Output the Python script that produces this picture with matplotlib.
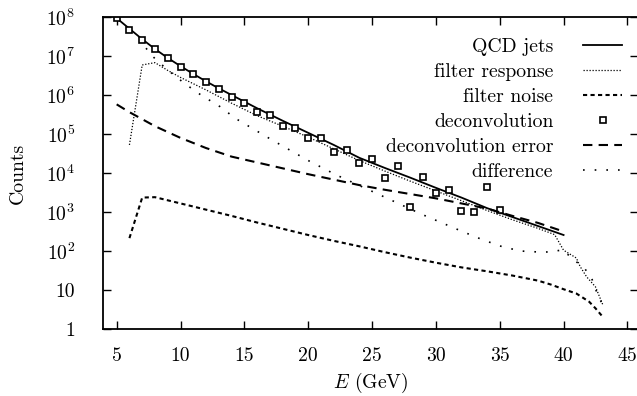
import numpy as np
import matplotlib
matplotlib.use("Agg")
import matplotlib.pyplot as plt

plt.rcParams["font.family"] = ["cmr10", "DejaVu Serif"]
plt.rcParams["mathtext.fontset"] = "cm"
plt.rcParams["axes.unicode_minus"] = False
plt.rcParams["axes.formatter.use_mathtext"] = True

# ------------------ spectra (log10 of counts) ------------------
qcd_e = [5, 6, 7, 8, 9, 10, 11, 12, 13, 14, 16, 18, 20, 22, 24, 26, 28, 30, 32, 34, 36, 38, 40]
qcd_log = [7.97, 7.70, 7.43, 7.18, 6.95, 6.74, 6.54, 6.35, 6.17, 6.00, 5.66, 5.34, 5.03,
           4.72, 4.39, 4.13, 3.88, 3.62, 3.37, 3.10, 2.87, 2.64, 2.41]

resp_e = [6, 7, 8, 9, 10, 11, 12, 13, 14, 16, 18, 20, 22, 24, 26, 28, 30, 32, 34, 36, 38,
          39.3, 40, 41, 41.3, 41.8, 42.5, 43.1]
resp_log = [4.72, 6.77, 6.83, 6.63, 6.45, 6.29, 6.13, 5.96, 5.79, 5.47, 5.20, 4.92, 4.62,
            4.32, 4.05, 3.79, 3.54, 3.29, 3.04, 2.80, 2.58, 2.42, 2.02, 1.82, 1.60, 1.34,
            1.08, 0.60]

noise_e = [6, 7, 8, 9, 10, 12, 14, 16, 18, 20, 22, 24, 26, 28, 30, 32, 34, 36, 38, 39, 40,
           41, 42, 42.5, 43.1]
noise_log = [2.33, 3.37, 3.38, 3.30, 3.22, 3.06, 2.90, 2.73, 2.57, 2.41, 2.26, 2.12, 1.97,
             1.83, 1.70, 1.58, 1.48, 1.37, 1.24, 1.14, 1.02, 0.91, 0.70, 0.53, 0.30]

deconv_e = list(range(5, 36))
deconv_log = [7.97, 7.67, 7.41, 7.17, 6.94, 6.73, 6.54, 6.34, 6.15, 5.96, 5.80, 5.56, 5.49,
              5.21, 5.16, 4.90, 4.89, 4.53, 4.59, 4.25, 4.36, 3.88, 4.18, 3.12, 3.91, 3.50,
              3.56, 3.03, 2.99, 3.65, 3.05]

err_e = [5, 6, 7, 8, 9, 10, 11, 12, 14, 16, 18, 20, 22, 24, 26, 28, 30, 32, 34, 36, 38, 40]
err_log = [5.76, 5.56, 5.38, 5.20, 5.05, 4.90, 4.77, 4.64, 4.42, 4.27, 4.12, 3.97, 3.83,
           3.69, 3.57, 3.46, 3.35, 3.22, 3.09, 2.90, 2.72, 2.50]

diff_e = [7.3, 7.85, 9.0, 10.3, 11.6, 13.1, 14.3, 17.15, 20.0, 22.2, 26.0, 28.9, 32.0, 33.5,
          35.0, 36.6, 38.3, 39.1, 39.9, 41.7, 42.2, 42.7, 43.1]
diff_log = [7.20, 6.98, 6.64, 6.30, 6.00, 5.70, 5.40, 4.85, 4.32, 3.95, 3.38, 2.94, 2.51,
            2.31, 2.13, 2.00, 1.97, 1.98, 2.03, 1.53, 1.30, 0.85, 0.60]

xticks = [5, 10, 15, 20, 25, 30, 35, 40, 45]
yticks = [1, 10, 1e2, 1e3, 1e4, 1e5, 1e6, 1e7, 1e8]
ytick_labels = ["1", "10", "$10^2$", "$10^3$", "$10^4$", "$10^5$", "$10^6$", "$10^7$", "$10^8$"]

FS = 14.2

fig = plt.figure(figsize=(6.37, 3.96), dpi=100)
ax = fig.add_axes([103 / 637, 1 - 329 / 396, 1 - 103 / 637 + 0.002, 312 / 396])

def pw(v):
    return 10 ** np.asarray(v)

ax.plot(qcd_e, pw(qcd_log), color="black", lw=1.3, label="QCD jets")
ax.plot(resp_e, pw(resp_log), color="black", lw=0.9, ls=(0, (1, 1.4)),
        label="filter response")
ax.plot(noise_e, pw(noise_log), color="black", lw=1.5, ls=(0, (2, 1.6)),
        label="filter noise")
ax.plot(deconv_e, pw(deconv_log), ls="none", marker="s", ms=4.3, mew=1.2,
        mfc="white", mec="black", label="deconvolution")
ax.plot(err_e, pw(err_log), color="black", lw=1.5, ls=(0, (4.5, 3)),
        label="deconvolution error")
ax.plot(diff_e, pw(diff_log), color="black", lw=1.2, ls=(0, (1, 6)),
        label="difference")

ax.set_yscale("log")
ax.set_xlim(3.93, 45.85)
ax.set_ylim(1, 1e8)
ax.set_xticks(xticks)
ax.set_xticklabels([str(t) for t in xticks])
ax.set_yticks(yticks)
ax.set_yticklabels(ytick_labels)
ax.minorticks_off()
ax.tick_params(direction="in", length=6, width=1, top=True, right=True,
               labelsize=FS)
ax.tick_params(axis="y", pad=20)
ax.tick_params(axis="x", pad=13)
for s in ax.spines.values():
    s.set_linewidth(1.3)

ax.set_xlabel("$E$ (GeV)", fontsize=FS, labelpad=4)
ax.set_ylabel("Counts", fontsize=FS, labelpad=14)

ax.legend(loc="upper right", frameon=False, markerfirst=False, fontsize=FS,
          handlelength=2.0, handletextpad=1.5, labelspacing=0.36,
          borderaxespad=0.6, bbox_to_anchor=(1.007, 0.997))

fig.savefig("out.png", dpi=100)
